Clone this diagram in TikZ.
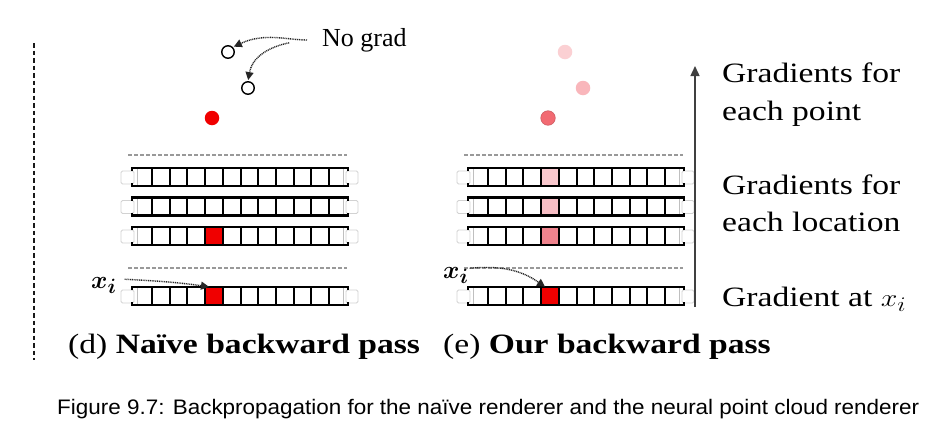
\documentclass[tikz,border=0pt]{standalone}
\usepackage{fontspec}
\setmainfont{Liberation Serif}
\newfontfamily\capfont{Liberation Sans}
\usepackage{graphicx}
\usetikzlibrary{arrows.meta}
\definecolor{hotred}{HTML}{F00000}
\definecolor{pinkA}{HTML}{F9C8CD}
\definecolor{pinkB}{HTML}{F7BDC4}
\definecolor{pinkC}{HTML}{F0848E}
\definecolor{dotA}{HTML}{FBD0D3}
\definecolor{dotB}{HTML}{F9B6BB}
\definecolor{dotC}{HTML}{F26A72}
\newcommand\wide[1]{\scalebox{1.2}[1]{#1}}
\tikzset{
  rail/.style={line width=2.5pt, black, line join=miter},
  cellline/.style={line width=2pt, black},
  thinline/.style={line width=0.6pt, gray!50},
  stub/.style={draw=gray!35, fill=white, line width=0.8pt, rounded corners=1.5pt},
  cellbox/.style={minimum width=17.7pt, minimum height=18pt, inner sep=0pt, draw=none},
  guide/.style={gray!80, line width=1.2pt, dash pattern=on 4pt off 2pt},
  dotarrow/.style={black!85, line width=1.4pt, dash pattern=on 1pt off 0.8pt, -{Triangle[length=8pt,width=8pt]}},
  sertext/.style={font=\fontsize{28}{30}\selectfont, inner sep=0pt, anchor=base west},
  mathlabel/.style={font=\fontsize{32}{34}\selectfont\boldmath, inner sep=0pt, anchor=base west},
  opendot/.style={circle, draw=black, line width=1.4pt, fill=white, minimum size=12.5pt, inner sep=0pt},
  filldot/.style={circle, minimum size=14.5pt, inner sep=0pt}
}
\newcommand\railstrip[4]{%
  \node[cellbox, fill=#3] (#4) at ({#1+214},{#2+9}) {};
  \foreach \k in {0,...,10} \draw[cellline] ({#1+152+17.7*\k},#2) -- ({#1+152+17.7*\k},{#2+18});
  \draw[thinline] ({#1+137},#2) -- ({#1+137},{#2+18});
  \draw[thinline] ({#1+343},#2) -- ({#1+343},{#2+18});
  \draw[stub] ({#1+121},{#2+3}) rectangle ({#1+134},{#2+16});
  \draw[stub] ({#1+346},{#2+3}) rectangle ({#1+358},{#2+16});
  \draw[rail] ({#1+132},{#2+3}) -- ({#1+132},#2) -- ({#1+348},#2) -- ({#1+348},{#2+3});
  \draw[rail] ({#1+132},{#2+15}) -- ({#1+132},{#2+18}) -- ({#1+348},{#2+18}) -- ({#1+348},{#2+15});
}
\begin{document}
\begin{tikzpicture}[x=1pt,y=-1pt]
\fill[white] (0,0) rectangle (937,434);
\useasboundingbox (0,0) rectangle (937,434);

% separator
\draw[line width=2.8pt, black!90, dash pattern=on 4.5pt off 3pt] (34,43) -- (34,360);

% ---------- left panel (d) ----------
\node[opendot] (c1) at (228,52) {};
\node[opendot] (c2) at (248,88) {};
\node[filldot, fill=hotred] (dL) at (212,118) {};
\node[font=\fontsize{26}{28}\selectfont, inner sep=0pt, anchor=west] (nograd) at (322,40) {No grad};
\draw[dotarrow, shorten <=15pt, shorten >=1pt] (nograd.west) to[out=180, in=25] (c1.north east);
\draw[dotarrow, shorten <=33pt, shorten >=1pt] (nograd.west) to[out=185, in=80] (c2.north);

\draw[guide] (128,155) -- (347,155);
\railstrip{0}{168}{white}{cL1}
\railstrip{0}{197.5}{white}{cL2}
\railstrip{0}{227}{hotred}{cL3}
\draw[guide] (128,268) -- (347,268);
\railstrip{0}{287}{hotred}{cL4}
\node[mathlabel] (xiL) at (91,288) {$x_i$};
\draw[dotarrow] ([xshift=8pt,yshift=6pt]xiL.east) to[out=-3, in=172] ([xshift=-5pt]cL4.north);
\node[sertext] (capd) at (68,353) {\wide{(d) \textbf{Naïve backward pass}}};

% ---------- right panel (e) ----------
\node[filldot, fill=dotA] (r1) at (565,52) {};
\node[filldot, fill=dotB] (r2) at (583,88) {};
\node[filldot, fill=dotC, draw=dotC!85!black, line width=0.6pt] (r3) at (548,118) {};

\draw[guide] (464,155) -- (683,155);
\railstrip{336}{168}{pinkA}{cR1}
\railstrip{336}{197.5}{pinkB}{cR2}
\railstrip{336}{227}{pinkC}{cR3}
\draw[guide] (464,268) -- (683,268);
\railstrip{336}{287}{hotred}{cR4}
\node[mathlabel] (xiR) at (443,278) {$x_i$};
\draw[dotarrow] ([xshift=1pt,yshift=7pt]xiR.east) to[out=5, in=145] ([xshift=-5pt]cR4.north);
\node[sertext] (cape) at (443,353) {\wide{(e) \textbf{Our backward pass}}};

% ---------- scale arrow and labels ----------
\coordinate (abot) at (695,307);
\coordinate (atop) at (695,66);
\draw[black!75, line width=1.4pt, -{Triangle[length=10pt,width=9pt]}] (abot) -- (atop);
\node[sertext] (t1) at (722,82) {\wide{Gradients for}};
\node[sertext] (t2) at (722,120) {\wide{each point}};
\node[sertext] (t3) at (722,194) {\wide{Gradients for}};
\node[sertext] (t4) at (722,231) {\wide{each location}};
\node[sertext] (t5) at (722,306) {\wide{Gradient at {\fontsize{31}{33}\selectfont$x_i$}}};

% ---------- caption ----------
\node[font=\capfont\fontsize{21}{23}\selectfont, inner sep=0pt, anchor=base west] (fig) at (57,414)
  {\resizebox{862pt}{\height}{Figure 9.7: Backpropagation for the naïve renderer and the neural point cloud renderer}};
\end{tikzpicture}
\end{document}
